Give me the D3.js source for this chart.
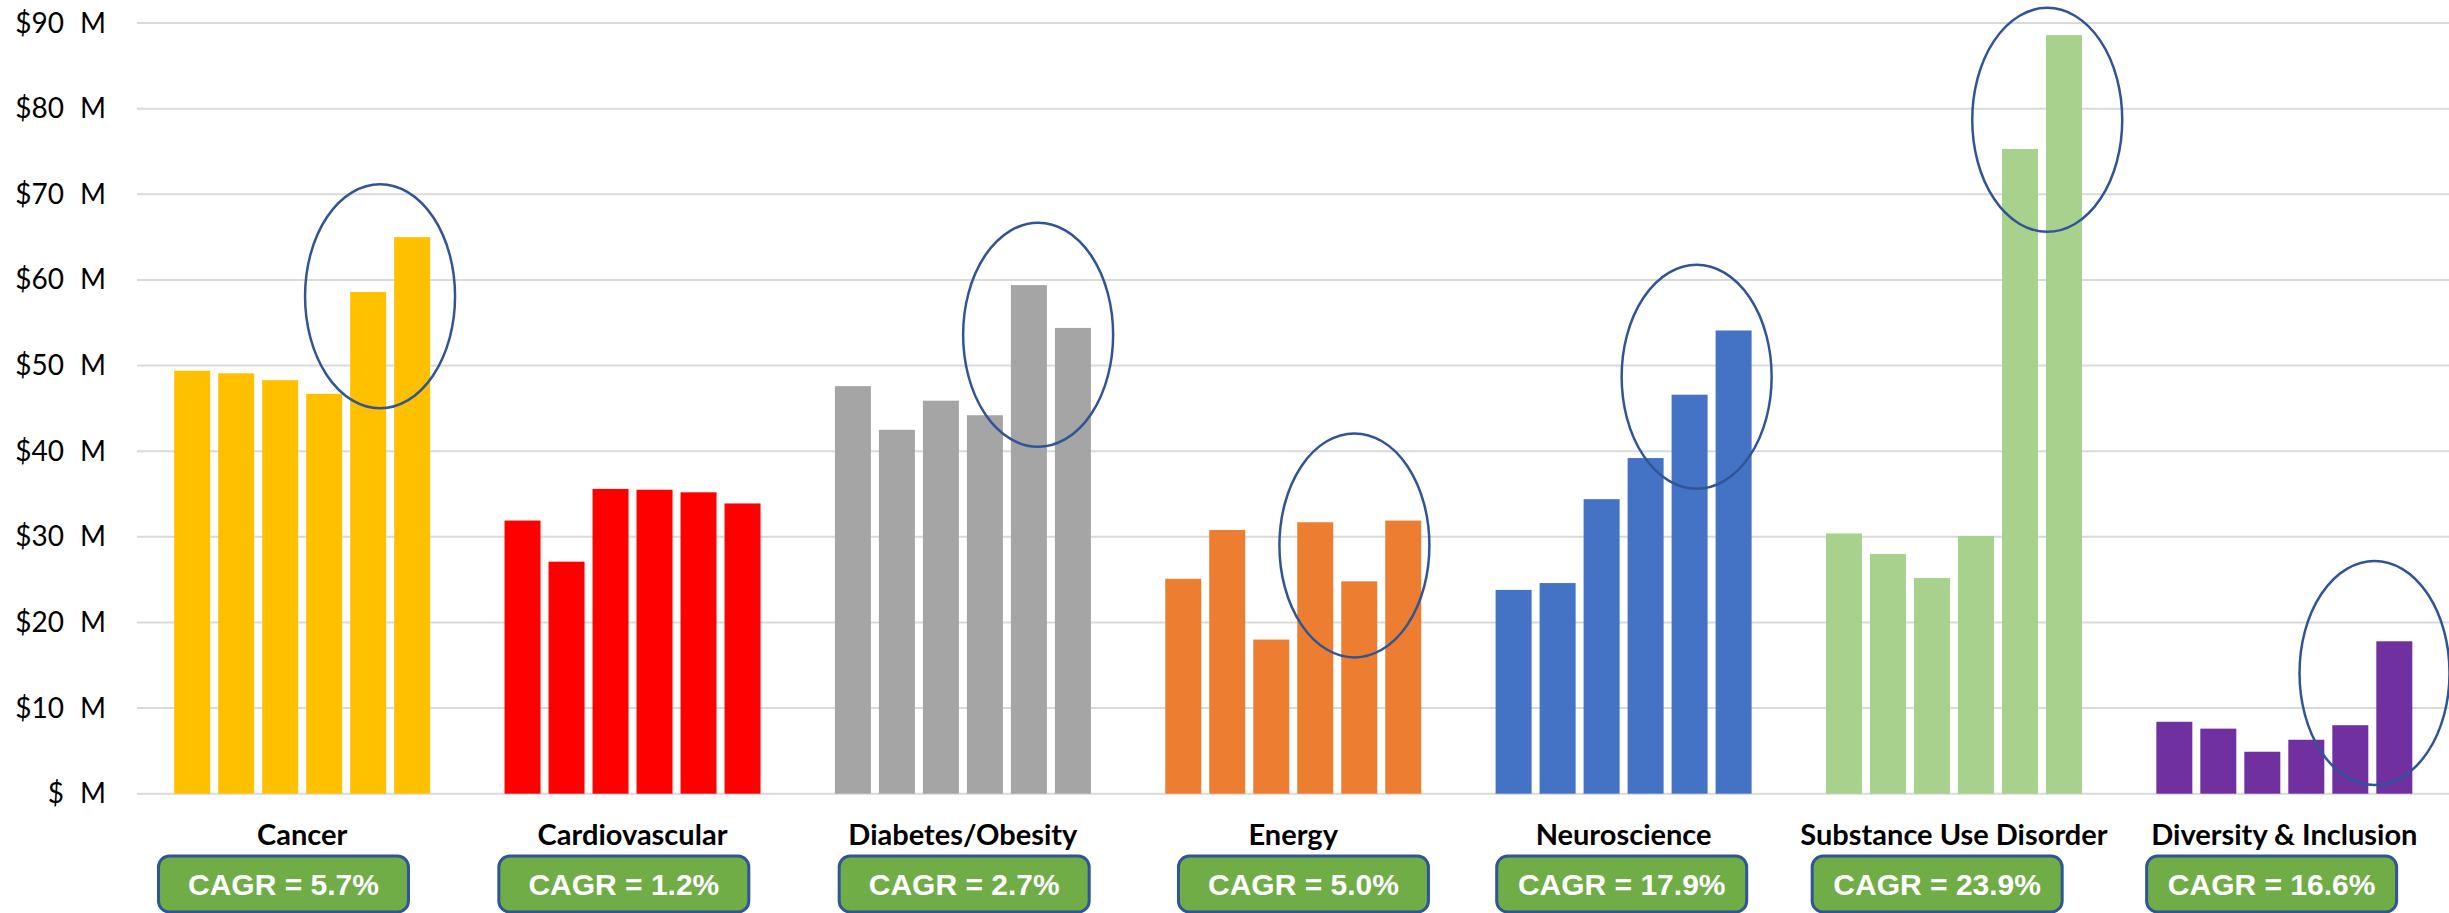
<!DOCTYPE html>
<html>
<head>
<meta charset="utf-8">
<script src="https://cdn.jsdelivr.net/npm/d3@7"></script>
<style>
  html, body { margin: 0; padding: 0; background: #fff; }
  svg { display: block; }
</style>
</head>
<body>
<svg id="chart" width="2449" height="913"></svg>
<script>
// Research funding by area, six consecutive years per area ($ millions)
const categories = ["Cancer", "Cardiovascular", "Diabetes/Obesity", "Energy",
                    "Neuroscience", "Substance Use Disorder", "Diversity & Inclusion"];
const cancer        = [49.4, 49.1, 48.3, 46.7, 58.6, 65.0];
const cardiovascular= [31.9, 27.1, 35.6, 35.5, 35.2, 33.9];
const diabetes      = [47.6, 42.5, 45.9, 44.2, 59.4, 54.4];
const energy        = [25.1, 30.8, 18.0, 31.7, 24.8, 31.9];
const neuroscience  = [23.8, 24.6, 34.4, 39.2, 46.6, 54.1];
const substance     = [30.4, 28.0, 25.2, 30.1, 75.3, 88.6];
const diversity     = [8.4, 7.6, 4.9, 6.3, 8.0, 17.8];
const cagr          = ["5.7%", "1.2%", "2.7%", "5.0%", "17.9%", "23.9%", "16.6%"];
const yTicks        = [0, 10, 20, 30, 40, 50, 60, 70, 80, 90];

// Highlight rings around the latest years: bar slot (0-5) and value at the ring centre
const rings = [
  { cat: "Cancer",                 slot: 4.27, mid: 58.1 },
  { cat: "Diabetes/Obesity",       slot: 4.21, mid: 53.6 },
  { cat: "Energy",                 slot: 3.89, mid: 29.0 },
  { cat: "Neuroscience",           slot: 4.16, mid: 48.7 },
  { cat: "Substance Use Disorder", slot: 4.62, mid: 78.7 },
  { cat: "Diversity & Inclusion",  slot: 4.55, mid: 14.1 }
];

const seriesByCat = [cancer, cardiovascular, diabetes, energy, neuroscience, substance, diversity];
const colors = ["#FFC000", "#FF0000", "#A5A5A5", "#ED7D31", "#4472C4", "#A9D18E", "#7030A0"];
// Badges are nudged individually under their categories (px)
const badgeShift = [-18.7, -8.7, 1.3, 10.2, -1.9, -16.8, -12.7];

const svg = d3.select("#chart");
const plotLeft = 137, plotRight = 2449.5;

const y = d3.scaleLinear().domain([0, 90]).range([793.7, 23.1]);
const x0 = d3.scaleBand().domain(categories).range([plotLeft, plotRight]).padding(0);
const x1 = d3.scaleBand().domain(d3.range(6)).range([0, x0.bandwidth()])
  .paddingInner(0.1818).paddingOuter(0.845);

const calibriLike = "Lato, 'Open Sans', 'Noto Sans', sans-serif";

// Gridlines
svg.append("g")
  .selectAll("line")
  .data(yTicks)
  .join("line")
  .attr("x1", plotLeft).attr("x2", plotRight)
  .attr("y1", d => y(d)).attr("y2", d => y(d))
  .attr("stroke", "#D9D9D9").attr("stroke-width", 2);

// Y axis labels: "$NN" then "M"
const yAxis = svg.append("g")
  .attr("transform", "translate(64,0)")
  .call(d3.axisLeft(y).tickValues(yTicks).tickSize(0).tickPadding(0)
        .tickFormat(d => "$" + (d === 0 ? "" : d)));
yAxis.select(".domain").remove();
yAxis.selectAll(".tick text")
  .attr("font-family", calibriLike).attr("font-size", 28).attr("fill", "#000");
yAxis.selectAll(".tick").append("text")
  .attr("x", 16).attr("dy", "0.32em")
  .attr("font-family", calibriLike).attr("font-size", 28).attr("fill", "#000")
  .attr("text-anchor", "start")
  .text("M");

// Bars
const groups = svg.append("g")
  .selectAll("g")
  .data(categories)
  .join("g")
  .attr("transform", d => `translate(${x0(d)},0)`);

groups.selectAll("rect")
  .data((d, i) => seriesByCat[i].map((v, j) => ({ v, j, c: colors[i] })))
  .join("rect")
  .attr("x", d => x1(d.j))
  .attr("width", x1.bandwidth())
  .attr("y", d => y(d.v))
  .attr("height", d => y(0) - y(d.v))
  .attr("fill", d => d.c);

// Category labels
svg.append("g")
  .selectAll("text")
  .data(categories)
  .join("text")
  .attr("x", d => x0(d) + x0.bandwidth() / 2)
  .attr("y", 845)
  .attr("text-anchor", "middle")
  .attr("font-family", calibriLike)
  .attr("font-weight", 700)
  .attr("font-size", 29)
  .attr("fill", "#000")
  .text(d => d);

// CAGR badges
const badges = svg.append("g")
  .selectAll("g")
  .data(categories)
  .join("g")
  .attr("transform", (d, i) => `translate(${x0(d) + x0.bandwidth() / 2 + badgeShift[i]},884)`);

badges.append("rect")
  .attr("x", -125).attr("y", -28)
  .attr("width", 250).attr("height", 56)
  .attr("rx", 11).attr("ry", 11)
  .attr("fill", "#70AD47")
  .attr("stroke", "#2F5597").attr("stroke-width", 3);

badges.append("text")
  .attr("x", 0).attr("y", 0).attr("dy", "0.36em")
  .attr("text-anchor", "middle")
  .attr("font-family", "'Liberation Sans', Arial, sans-serif")
  .attr("font-weight", 700)
  .attr("font-size", 30)
  .attr("fill", "#fff")
  .text((d, i) => "CAGR = " + cagr[i]);

// Highlight rings
const ringOffset = x1(0) + x1.bandwidth() / 2;
svg.append("g")
  .selectAll("ellipse")
  .data(rings)
  .join("ellipse")
  .attr("cx", d => x0(d.cat) + ringOffset + d.slot * x1.step())
  .attr("cy", d => y(d.mid))
  .attr("rx", 75).attr("ry", 112)
  .attr("fill", "none")
  .attr("stroke", "#2F5597").attr("stroke-width", 2.5);
</script>
</body>
</html>
